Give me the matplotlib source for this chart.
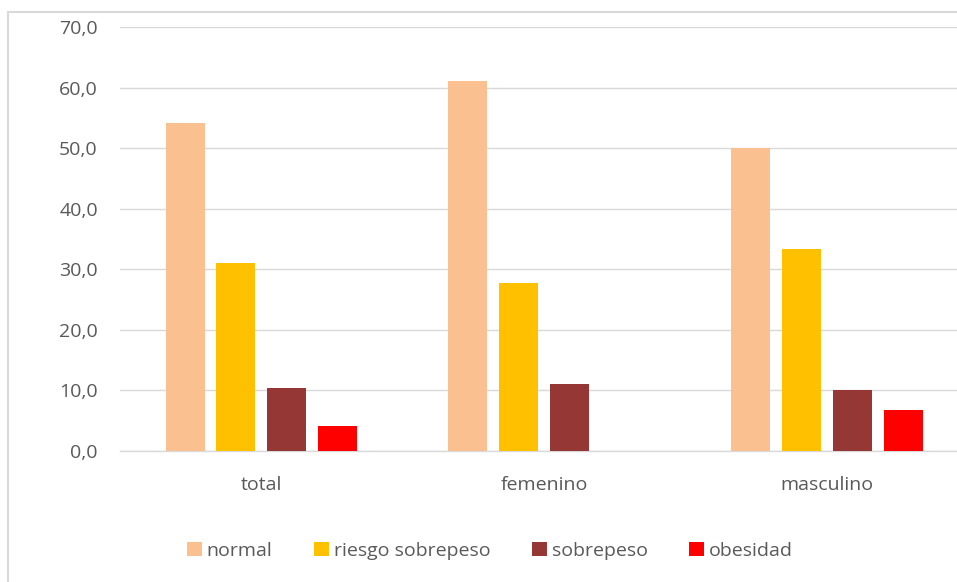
import matplotlib
matplotlib.use("Agg")
import matplotlib.pyplot as plt
import numpy as np
from matplotlib.patches import Rectangle

categories = ["total", "femenino", "masculino"]
series_names = ["normal", "riesgo sobrepeso", "sobrepeso", "obesidad"]
normal = [54.2, 61.1, 50.0]
riesgo = [31.1, 27.8, 33.3]
sobrepeso = [10.4, 11.1, 10.0]
obesidad = [4.1, 0.0, 6.7]
yticks = [0, 10, 20, 30, 40, 50, 60, 70]
ytick_labels = ["0,0", "10,0", "20,0", "30,0", "40,0", "50,0", "60,0", "70,0"]

colors = ["#FAC090", "#FFC000", "#953735", "#FF0000"]
values = [normal, riesgo, sobrepeso, obesidad]

plt.rcParams['font.family'] = ['Open Sans', 'DejaVu Sans']
W, H = 957, 582
fig = plt.figure(figsize=(W/100, H/100), dpi=100)

# outer chart border (extends beyond right/bottom edges)
fig.patches.append(Rectangle((8/W, -0.2), 1.2, 1.2 - 12/H, transform=fig.transFigure,
                             fill=False, edgecolor="#D9D9D9", linewidth=1.5))

ax = fig.add_axes([120/W, 1 - 451/H, (968.5-120)/W, (451-27)/H])
x = np.arange(len(categories))
bw = 0.138
step = 0.18
offsets = (np.arange(4) - 1.5) * step
for i, (vals, name, c) in enumerate(zip(values, series_names, colors)):
    ax.bar(x + offsets[i], vals, width=bw, color=c, label=name, zorder=3)

fs = 14
ax.set_xlim(-0.5, 2.5)
ax.set_ylim(0, 70)
ax.set_yticks(yticks)
ax.set_yticklabels(ytick_labels, fontsize=fs, color="#595959")
ax.set_xticks(x)
ax.set_xticklabels(categories, fontsize=fs, color="#595959")
ax.tick_params(axis='both', length=0)
ax.tick_params(axis='y', pad=16)
ax.tick_params(axis='x', pad=18)
ax.grid(axis='y', color="#D9D9D9", linewidth=1, zorder=0)
for s in ["top", "right", "left"]:
    ax.spines[s].set_visible(False)
ax.spines["bottom"].set_color("#D9D9D9")
ax.spines["bottom"].set_linewidth(1)

handles, labels = ax.get_legend_handles_labels()
leg = fig.legend(handles, labels, loc="center", bbox_to_anchor=(490/W, 1 - 551/H),
                 ncol=4, frameon=False, fontsize=fs, handlelength=0.75, handleheight=0.75,
                 handletextpad=0.25, columnspacing=2.15)
for t in leg.get_texts():
    t.set_color("#595959")

fig.savefig("out.png", dpi=100)
